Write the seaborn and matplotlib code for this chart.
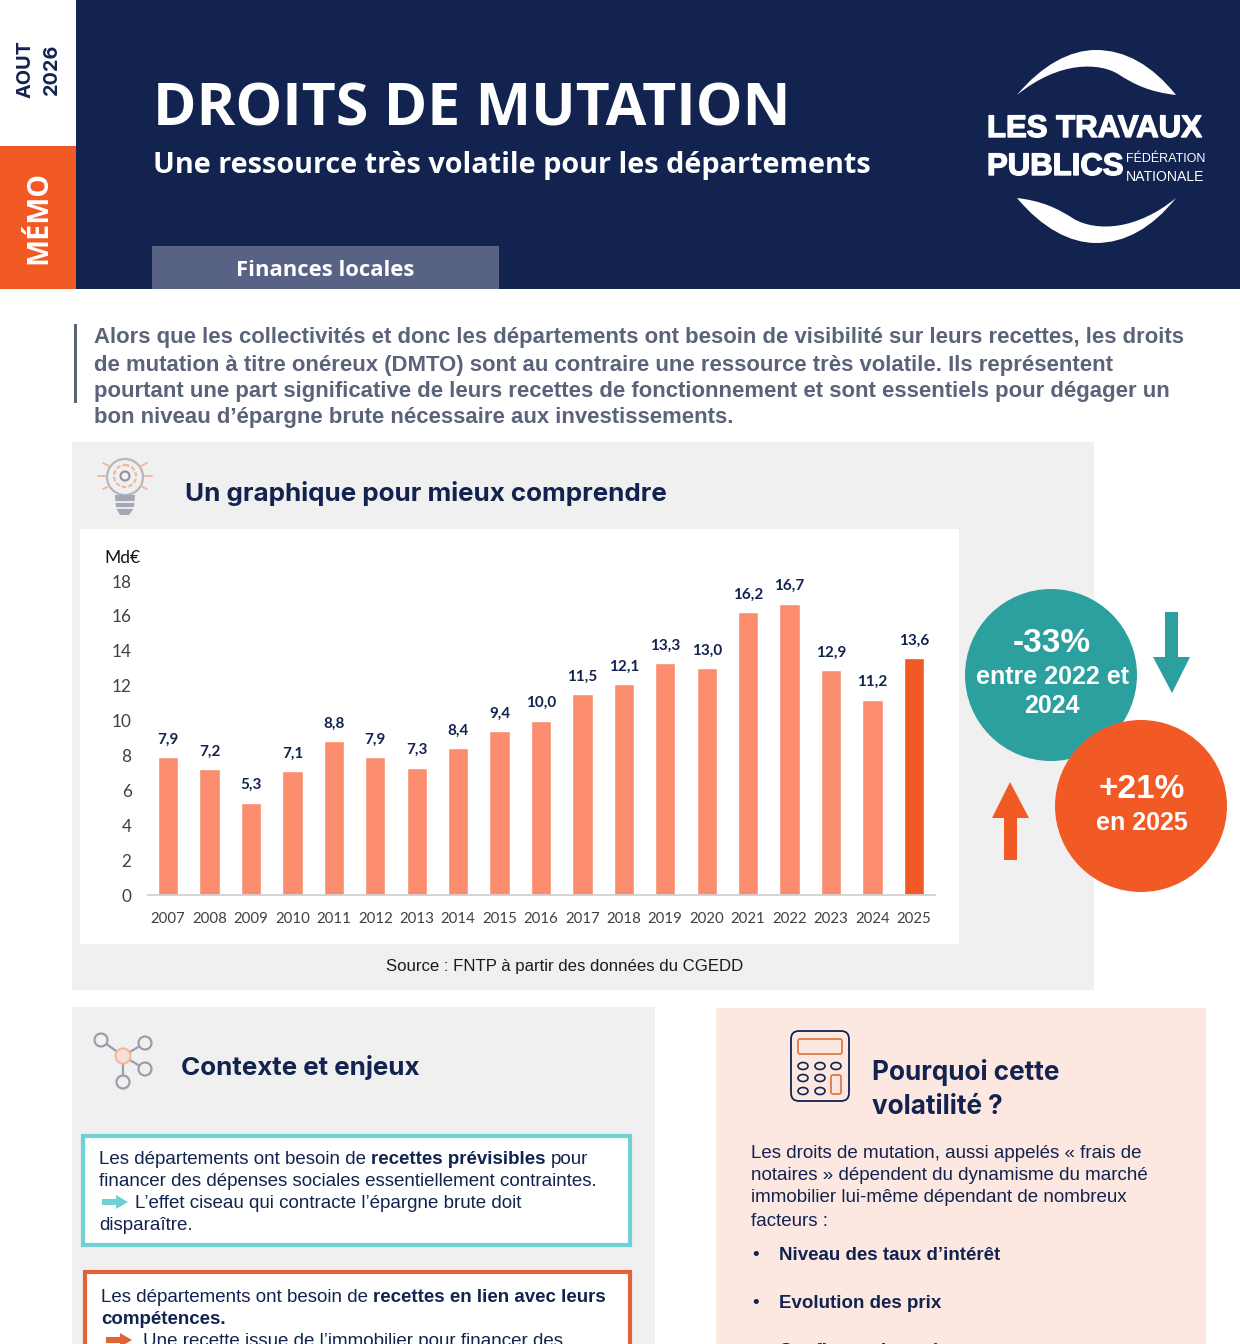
import matplotlib
matplotlib.use("Agg")
import matplotlib.pyplot as plt
import matplotlib.patheffects as pe
from matplotlib.patches import Rectangle, Circle, Polygon, FancyBboxPatch, PathPatch, Ellipse
from matplotlib.path import Path
import pandas as pd
import seaborn as sns

# data
years = ["2007", "2008", "2009", "2010", "2011", "2012", "2013", "2014", "2015", "2016",
         "2017", "2018", "2019", "2020", "2021", "2022", "2023", "2024", "2025"]
values = [7.9, 7.2, 5.3, 7.1, 8.8, 7.9, 7.3, 8.4, 9.4, 10.0,
          11.5, 12.1, 13.3, 13.0, 16.2, 16.7, 12.9, 11.2, 13.6]
y_ticks = [0, 2, 4, 6, 8, 10, 12, 14, 16, 18]

intro_lines = [
    "Alors que les collectivités et donc les départements ont besoin de visibilité sur leurs recettes, les droits",
    "de mutation à titre onéreux (DMTO) sont au contraire une ressource très volatile. Ils représentent",
    "pourtant une part significative de leurs recettes de fonctionnement et sont essentiels pour dégager un",
    "bon niveau d’épargne brute nécessaire aux investissements.",
]
facteurs = ["Niveau des taux d’intérêt", "Evolution des prix", "Confiance des ménages"]

NAVY = "#12234F"
ORANGE = "#F15A24"
SALMON = "#FB8C6E"
TEAL = "#2BA09F"
GREY_TXT = "#5A6379"
PANEL = "#F0F0F0"
BODY = "Liberation Sans"
HEAD = "Inter"
PLEX = "Open Sans"

sns.set_theme(style="white")
fig = plt.figure(figsize=(12.4, 13.44), dpi=100)

# page layer in pixels, y pointing down
page = fig.add_axes([0, 0, 1, 1])
page.set_xlim(0, 1240)
page.set_ylim(1344, 0)
page.axis("off")


def box(x0, y0, x1, y1, color, **kw):
    page.add_patch(Rectangle((x0, y0), x1 - x0, y1 - y0, facecolor=color, edgecolor="none", **kw))


def txt(x, y, s, size, color=NAVY, family=BODY, weight="normal", ha="left", va="center", **kw):
    return page.text(x, y, s, fontsize=size, color=color, family=family, fontweight=weight,
                     ha=ha, va=va, clip_on=True, **kw)


def runs(x, y, parts, size, color=NAVY):
    # one line with regular and bold pieces side by side
    r = fig.canvas.get_renderer()
    for s, bold in parts:
        t = txt(x, y, s, size, color=color, weight="bold" if bold else "normal", va="center_baseline")
        x += t.get_window_extent(r).width + size * 0.39


def arrow(x, y, color):
    page.add_patch(Polygon([(x, y - 3), (x + 14, y - 3), (x + 14, y - 7), (x + 26, y),
                            (x + 14, y + 7), (x + 14, y + 3), (x, y + 3)],
                           facecolor=color, edgecolor="none"))


# header
box(76, 0, 1240, 289, NAVY)
box(0, 146, 76, 289, ORANGE)
box(152, 246, 499, 289, "#586285")
txt(26, 69.5, "AOUT", 14.3, rotation=90, ha="center", family=HEAD, weight="bold")
txt(52, 69.5, "2026", 14.3, rotation=90, ha="center", family=HEAD, weight="bold")
txt(39, 217, "MÉMO", 20.6, color="white", rotation=90, ha="center", family=PLEX, weight="bold")
txt(153, 110, "DROITS DE MUTATION", 42.5, color="white", family=PLEX, weight="bold")
txt(153, 165, "Une ressource très volatile pour les départements", 20.8, color="white", family=PLEX, weight="bold")
txt(325, 270, "Finances locales", 15.8, color="white", family=PLEX, weight="bold", ha="center")

# logo
crescent_top = Path(
    [(1017, 95), (1042, 65), (1070, 50), (1096, 50), (1125, 50), (1152, 65), (1176, 95),
     (1150, 92), (1135, 85), (1118, 74), (1100, 63), (1060, 60), (1017, 95)],
    [Path.MOVETO] + [Path.CURVE4] * 12)
crescent_bot = Path(
    [(1017, 198), (1042, 228), (1070, 243), (1096, 243), (1125, 243), (1152, 228), (1176, 198),
     (1137, 230), (1097, 232), (1074, 219), (1057, 208), (1042, 201), (1017, 198)],
    [Path.MOVETO] + [Path.CURVE4] * 12)
page.add_patch(PathPatch(crescent_top, facecolor="white", edgecolor="none"))
page.add_patch(PathPatch(crescent_bot, facecolor="white", edgecolor="none"))
fat = [pe.withStroke(linewidth=1.0, foreground="white")]
txt(987, 129, "LES TRAVAUX", 22.4, color="white", weight="bold", path_effects=fat)
txt(987, 167, "PUBLICS", 22.4, color="white", weight="bold", path_effects=fat)
txt(1126, 159, "FÉDÉRATION", 9.0, color="white")
txt(1126, 177, "NATIONALE", 10.1, color="white")

# intro
box(74, 324, 77, 403, GREY_TXT)
for line, y in zip(intro_lines, [338, 365, 392, 418]):
    txt(94, y, line, 15.96, color=GREY_TXT, weight="bold")

# chart panel
box(72, 442, 1094, 990, PANEL)
box(80, 529, 959, 944, "white")
txt(185, 493, "Un graphique pour mieux comprendre", 18.7, family=HEAD, weight="bold")
txt(565, 966, "Source : FNTP à partir des données du CGEDD", 12.1, color="#1a1a1a", ha="center")

# bulb icon
page.add_patch(Circle((125, 477), 18, facecolor="none", edgecolor="#B4B7C1", lw=1.6))
page.add_patch(Circle((125, 476), 11, facecolor="none", edgecolor="#F2B9A0", lw=1.6, ls=(0, (2, 1))))
page.add_patch(Circle((125, 476), 4.5, facecolor="none", edgecolor="#8E93A3", lw=1.5))
page.add_patch(Polygon([(115, 495), (135, 495), (134, 508), (129, 515), (120, 515), (116, 508)],
                       facecolor="#A4A8B4", edgecolor="none"))
box(115, 501, 135, 503, "#E8E9EC")
box(116, 507, 134, 508.5, "#E8E9EC")
for a, b, c, d in [(98, 476, 105, 476), (145, 476, 152, 476), (103, 463, 109, 466), (141, 466, 147, 463),
                   (103, 489, 109, 486), (141, 486, 147, 489)]:
    page.plot([a, c], [b, d], color="#F2B9A0", lw=1.4)

# bar chart
df = pd.DataFrame({"annee": years, "valeur": values})
bar_colors = [SALMON] * 18 + [ORANGE]
ax = fig.add_axes([147.5 / 1240, 1 - 895 / 1344, 787 / 1240, 314 / 1344])
ax.patch.set_alpha(0)
sns.barplot(data=df, x="annee", y="valeur", hue="annee", palette=bar_colors, width=0.49,
            saturation=1, legend=False, ax=ax)
ax.set_xlim(-0.5, 18.5)
ax.set_ylim(0, 18)
ax.set_yticks(y_ticks)
ax.set_xlabel("")
ax.set_ylabel("")
sns.despine(ax=ax, left=True)
ax.spines["bottom"].set_color("#D0D0D0")
ax.spines["bottom"].set_linewidth(1.3)
ax.tick_params(axis="x", length=0, pad=12, labelsize=10.8, labelcolor="#404040")
ax.tick_params(axis="y", length=0, pad=11.5, labelsize=12.3, labelcolor="#404040")
for label in ax.get_xticklabels() + ax.get_yticklabels():
    label.set_family("Lato")
for cont, v in zip(ax.containers, values):
    ax.bar_label(cont, labels=[f"{v:.1f}".replace(".", ",")], padding=7.5, fontsize=11,
                 fontweight="bold", color=NAVY, family="Lato")
txt(122, 558, "Md€", 12.5, color="#111111", family="Lato", ha="center")

# circles and arrows
page.add_patch(Circle((1051, 675), 86, facecolor=TEAL, edgecolor="none"))
page.add_patch(Circle((1141, 806), 86, facecolor=ORANGE, edgecolor="none"))
txt(1052, 643, "-33%", 24, color="white", weight="bold", ha="center")
txt(1052, 677, "entre 2022 et", 18, color="white", weight="bold", ha="center")
txt(1052, 706, "2024", 18, color="white", weight="bold", ha="center")
txt(1142, 789, "+21%", 24, color="white", weight="bold", ha="center")
txt(1142, 823, "en 2025", 18, color="white", weight="bold", ha="center")
page.add_patch(Polygon([(1165, 612), (1178, 612), (1178, 657), (1190, 657), (1172, 693), (1153, 657), (1165, 657)],
                       facecolor=TEAL, edgecolor="none"))
page.add_patch(Polygon([(1004, 860), (1017, 860), (1017, 818), (1029, 818), (1010, 782), (992, 818), (1004, 818)],
                       facecolor=ORANGE, edgecolor="none"))

# contexte panel
box(72, 1007, 655, 1344, PANEL)
txt(181, 1067, "Contexte et enjeux", 18.7, family=HEAD, weight="bold")
hub = (123, 1056)
for end in [(101, 1040), (145, 1043), (145, 1069), (123, 1082)]:
    page.plot([hub[0], end[0]], [hub[1], end[1]], color="#9A9EAB", lw=1.6, zorder=2)
    page.add_patch(Circle(end, 6.5, facecolor=PANEL, edgecolor="#9A9EAB", lw=1.6, zorder=3))
page.add_patch(Circle(hub, 7.5, facecolor="#F8E0D6", edgecolor="#F2B9A0", lw=1.6, zorder=3))

page.add_patch(FancyBboxPatch((83, 1136), 547, 109, boxstyle="square,pad=0", facecolor="white",
                              edgecolor="#6FD1D4", lw=3))
runs(99, 1157, [("Les départements ont besoin de", False), ("recettes prévisibles", True), ("pour", False)], 13.5)
txt(99, 1179, "financer des dépenses sociales essentiellement contraintes.", 13.5, va="center_baseline")
arrow(102, 1202, "#6FD1D4")
txt(135, 1202, "L’effet ciseau qui contracte l’épargne brute doit", 13.5, va="center_baseline")
txt(99, 1224, "disparaître.", 13.5, va="center_baseline")

page.add_patch(FancyBboxPatch((85, 1272), 545, 120, boxstyle="square,pad=0", facecolor="white",
                              edgecolor="#E2633A", lw=3, clip_on=True))
runs(101, 1295, [("Les départements ont besoin de", False), ("recettes en lien avec leurs", True)], 13.5)
txt(101, 1318, "compétences.", 13.5, weight="bold", va="center_baseline")
arrow(106, 1340, "#E2633A")
txt(143, 1340, "Une recette issue de l’immobilier pour financer des", 13.5, va="center_baseline")

# pourquoi panel
box(716, 1008, 1206, 1344, "#FCE8E0")
txt(872, 1072, "Pourquoi cette", 18.8, family=HEAD, weight="bold")
txt(872, 1107, "volatilité ?", 18.8, family=HEAD, weight="bold")
page.add_patch(FancyBboxPatch((793, 1033), 54, 66, boxstyle="round,pad=2,rounding_size=8",
                              facecolor="none", edgecolor=NAVY, lw=1.3))
page.add_patch(FancyBboxPatch((798, 1039), 44, 15, boxstyle="round,pad=0,rounding_size=2",
                              facecolor="none", edgecolor="#E07A4C", lw=1.3))
page.add_patch(FancyBboxPatch((831, 1075), 10, 19, boxstyle="round,pad=0,rounding_size=2",
                              facecolor="none", edgecolor="#E07A4C", lw=1.3))
for cx, cy in [(803, 1066), (820, 1066), (836, 1066), (803, 1078), (820, 1078), (803, 1091), (820, 1091)]:
    page.add_patch(Ellipse((cx, cy), 10, 7, facecolor="none", edgecolor=NAVY, lw=1.2))

pourquoi = ["Les droits de mutation, aussi appelés « frais de",
            "notaires » dépendent du dynamisme du marché",
            "immobilier lui-même dépendant de nombreux",
            "facteurs :"]
for line, y in zip(pourquoi, [1151, 1174, 1196, 1219]):
    txt(751, y, line, 13.5, va="center_baseline")
for f, y in zip(facteurs, [1254, 1302, 1349]):
    txt(752, y, "•", 13.5, va="center_baseline")
    txt(779, y, f, 13.5, weight="bold", va="center_baseline")

fig.savefig("out.png", dpi=100)
